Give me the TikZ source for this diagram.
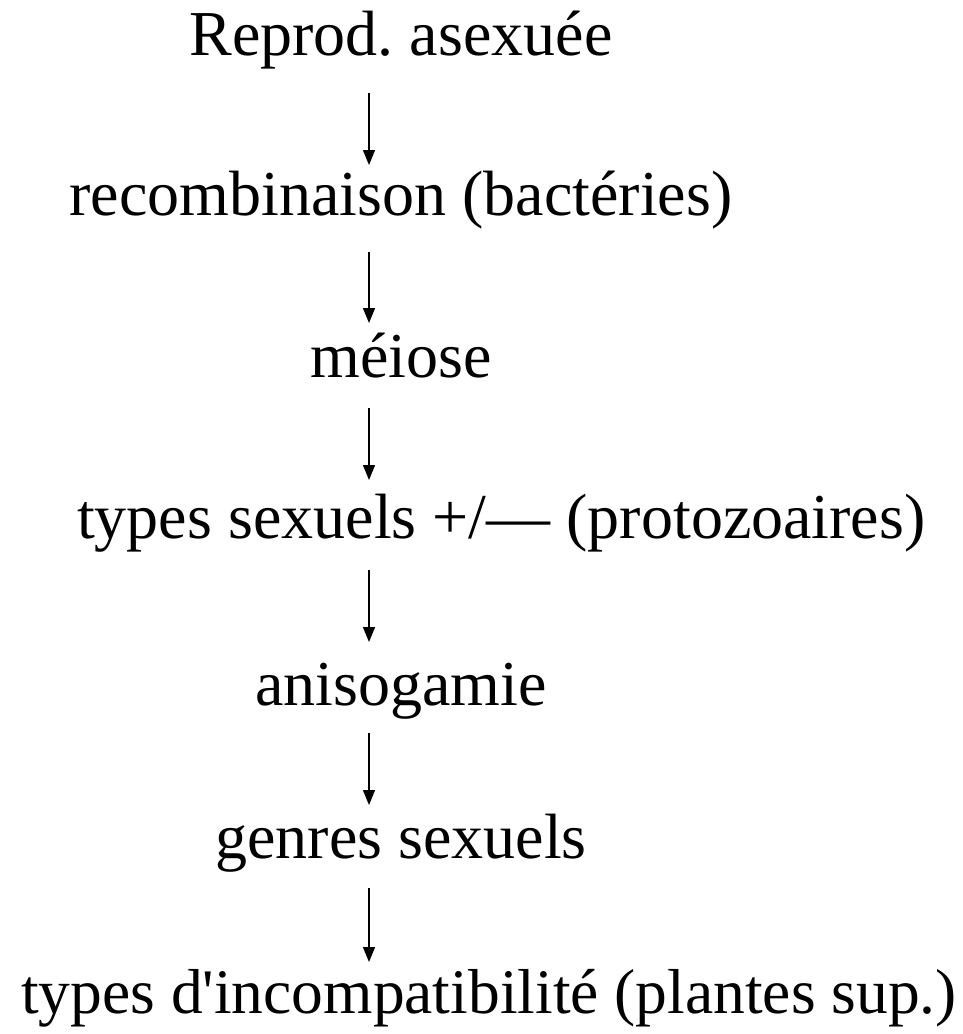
\documentclass[tikz,border=0pt]{standalone}
\usepackage{fontspec}
\setmainfont{Liberation Serif}
\usetikzlibrary{arrows.meta,calc}
\frenchspacing
\tikzset{
  lbl/.style={anchor=base,inner sep=0pt,font=\fontsize{64}{64}\selectfont},
  lblw/.style={lbl,anchor=base west},
  arr/.style={line width=1.4pt,-{Triangle[length=15pt,width=12pt]}}
}
\begin{document}
\begin{tikzpicture}[x=1pt,y=-1pt]
\useasboundingbox (0,0) rectangle (963,1034);
\coordinate (ax) at (369,0);
\node[lbl] (n1) at (401,55) {Reprod. asexuée};
\node[lbl] (n2) at (401,215) {recombinaison (bactéries)};
\node[lbl] (n3) at (401,377) {méiose};
\node[lblw] (n4) at (77,538) {types sexuels +/— (protozoaires)};
\node[lbl] (n5) at (401,705) {anisogamie};
\node[lbl] (n6) at (401,858) {genres sexuels};
\node[lblw,font=\fontsize{63.5}{64}\selectfont] (n7) at (21,1013) {types d\textquotesingle incompatibilité (plantes sup.)};
\draw[arr] ($(n1.base -| ax)+(0,38)$) -- ($(n2.base -| ax)+(0,-50)$);
\draw[arr] ($(n2.base -| ax)+(0,37)$) -- ($(n3.base -| ax)+(0,-54)$);
\draw[arr] ($(n3.base -| ax)+(0,31)$) -- ($(n4.base -| ax)+(0,-58)$);
\draw[arr] ($(n4.base -| ax)+(0,32)$) -- ($(n5.base -| ax)+(0,-63)$);
\draw[arr] ($(n5.base -| ax)+(0,28)$) -- ($(n6.base -| ax)+(0,-53)$);
\draw[arr] ($(n6.base -| ax)+(0,30)$) -- ($(n7.base -| ax)+(0,-51)$);
\end{tikzpicture}
\end{document}
